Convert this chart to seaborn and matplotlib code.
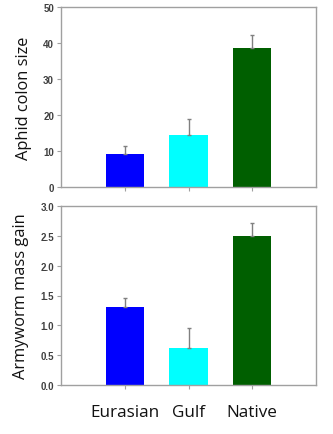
import matplotlib
matplotlib.use("Agg")
import matplotlib.pyplot as plt
import seaborn as sns
import pandas as pd
import numpy as np

categories = ["Eurasian", "Gulf", "Native"]
colors = ["#0000FF", "#00FFFF", "#005F00"]
aphid_mean = [9.2, 14.5, 38.5]
aphid_err = [2.2, 4.5, 3.7]
army_mean = [1.30, 0.62, 2.50]
army_err = [0.15, 0.33, 0.21]

sns.set_theme(style="white")
plt.rcParams['font.family'] = ['Liberation Sans', 'DejaVu Sans']

W, H = 333, 435
fig = plt.figure(figsize=(W / 100, H / 100), dpi=100)
ax1 = fig.add_axes([61 / W, (H - 188) / H, 255 / W, 180 / H])
ax2 = fig.add_axes([61 / W, (H - 386) / H, 255 / W, 179 / H])

gray = "#A0A0A0"
for ax, means, errs, ylim, yticks, fmt, ylabel in [
    (ax1, aphid_mean, aphid_err, (0, 50), [0, 10, 20, 30, 40, 50], "{:.0f}", "Aphid colon size"),
    (ax2, army_mean, army_err, (0, 3.0), [0, 0.5, 1.0, 1.5, 2.0, 2.5, 3.0], "{:.1f}", "Armyworm mass gain"),
]:
    df = pd.DataFrame({"cat": categories, "val": means})
    sns.barplot(data=df, x="cat", y="val", hue="cat", palette=colors, width=0.6,
                legend=False, ax=ax, saturation=1, edgecolor="none")
    ax.errorbar(range(len(categories)), means, yerr=[np.zeros(len(errs)), errs],
                fmt="none", ecolor="#808080", elinewidth=1.0, capsize=1.6, capthick=1.0)
    ax.set_xlim(-1, 3)
    ax.set_ylim(*ylim)
    ax.set_yticks(yticks)
    ax.set_yticklabels([fmt.format(t) for t in yticks], fontsize=7, color="#404040",
                       fontweight="bold")
    ax.set_ylabel(ylabel, fontsize=11.8, family=["Open Sans", "DejaVu Sans"],
                  color="#111111", labelpad=8)
    ax.set_xlabel("")
    for s in ax.spines.values():
        s.set_color(gray)
        s.set_linewidth(1.0)
    ax.tick_params(axis="both", which="both", direction="out", length=3,
                   color=gray, width=0.8, left=True, bottom=True, pad=2)

ax1.set_xticks(range(3))
ax1.set_xticklabels([])
ax2.set_xticks(range(3))
ax2.set_xticklabels(categories, fontsize=12.3, family=["Open Sans", "DejaVu Sans"],
                    color="#111111")
ax2.tick_params(axis="x", pad=11)

fig.savefig("out.png", dpi=100)
